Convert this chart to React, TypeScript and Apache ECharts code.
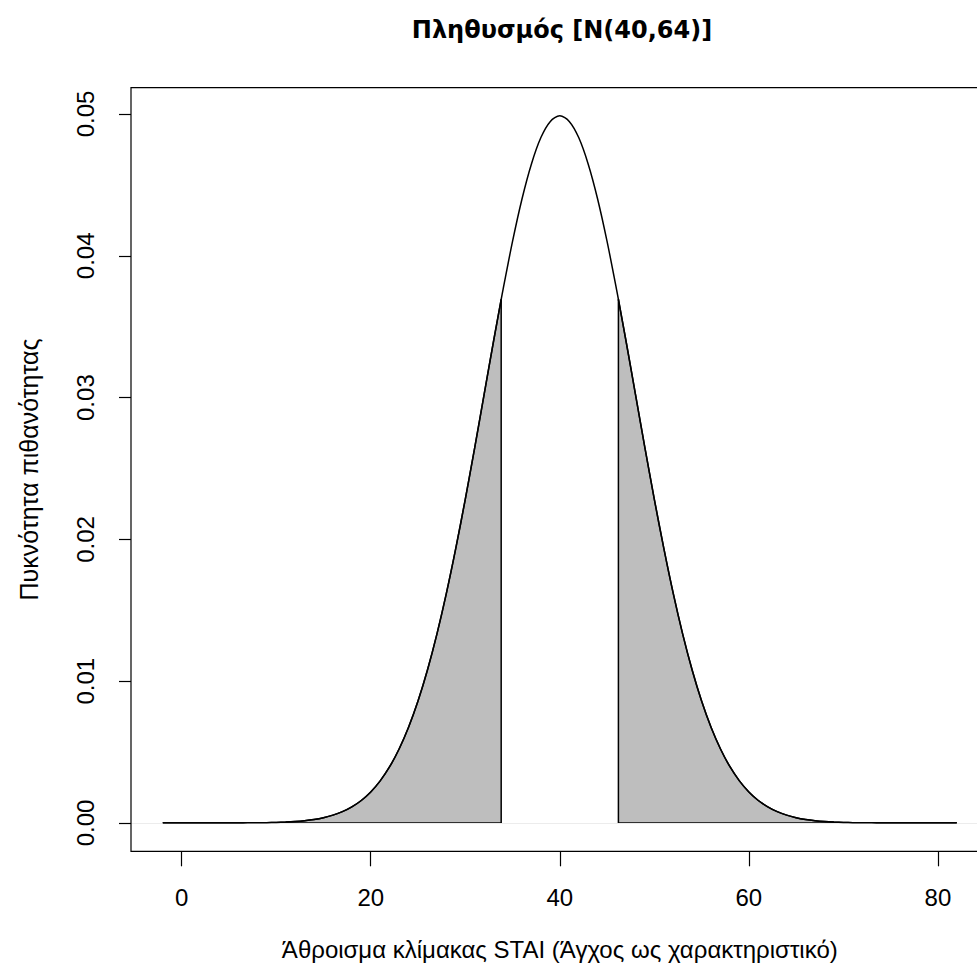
import React, { useEffect, useRef } from "react";
import * as echarts from "echarts";

// x positions where the density curve was read
const xValues = [
  -2, -1, 0, 1, 2, 3, 4, 5, 6, 7, 8, 9, 10, 11, 12, 13, 14, 15, 16, 17, 18, 19,
  20, 21, 22, 23, 24, 25, 26, 27, 28, 29, 30, 31, 32, 33, 33.8, 34, 35, 36, 37,
  38, 39, 40, 41, 42, 43, 44, 45, 46, 46.2, 47, 48, 49, 50, 51, 52, 53, 54, 55,
  56, 57, 58, 59, 60, 61, 62, 63, 64, 65, 66, 67, 68, 69, 70, 71, 72, 73, 74,
  75, 76, 77, 78, 79, 80, 81, 82,
];
// density values (peak ~0.0499 at 40)
const density = [
  0, 0.0000001, 0.0000002, 0.0000003, 0.0000006, 0.0000011, 0.000002,
  0.0000035, 0.0000059, 0.0000101, 0.0000167, 0.0000274, 0.0000441, 0.0000699,
  0.000109, 0.000168, 0.000254, 0.000378, 0.000554, 0.0008, 0.00114, 0.00159,
  0.00219, 0.00297, 0.00397, 0.00522, 0.00675, 0.0086, 0.01079, 0.01332,
  0.01619, 0.01938, 0.02283, 0.02648, 0.03025, 0.03401, 0.03693, 0.03764,
  0.04102, 0.04401, 0.04648, 0.04834, 0.04948, 0.04987, 0.04948, 0.04834,
  0.04648, 0.04401, 0.04102, 0.03764, 0.03693, 0.03401, 0.03025, 0.02648,
  0.02283, 0.01938, 0.01619, 0.01332, 0.01079, 0.0086, 0.00675, 0.00522,
  0.00397, 0.00297, 0.00219, 0.00159, 0.00114, 0.0008, 0.000554, 0.000378,
  0.000254, 0.000168, 0.000109, 0.0000699, 0.0000441, 0.0000274, 0.0000167,
  0.0000101, 0.0000059, 0.0000035, 0.000002, 0.0000011, 0.0000006, 0.0000003,
  0.0000002, 0.0000001, 0,
];
const cutLow = 33.8;
const cutHigh = 46.2;
const xTicks = [0, 20, 40, 60, 80];
const yTicks = [0, 0.01, 0.02, 0.03, 0.04, 0.05];
const xRange = [-5.36, 85.36];
const yRange = [-0.0019947, 0.0518627];

const titleText = "Πληθυσμός [N(40,64)]";
const xName = "Άθροισμα κλίμακας STAI (Άγχος ως χαρακτηριστικό)";
const yName = "Πυκνότητα πιθανότητας";

export default function App() {
  const ref = useRef<HTMLDivElement>(null);
  useEffect(() => {
    document.body.style.margin = "0";
    if (!ref.current) return;
    const chart = echarts.init(ref.current, undefined, { renderer: "svg" });
    const pts = xValues.map((x, i) => [x, density[i]]);
    const leftPts = pts.filter((p) => p[0] <= cutLow);
    const rightPts = pts.filter((p) => p[0] >= cutHigh);
    const lowY = pts.find((p) => p[0] === cutLow)![1];
    const highY = pts.find((p) => p[0] === cutHigh)![1];
    const font = "'Liberation Sans', Arial, sans-serif";
    const black = { color: "#000", width: 1.5 };
    const seg = (data: number[][]) => ({
      type: "line",
      data,
      symbol: "none",
      silent: true,
      lineStyle: black,
      z: 4,
    });
    chart.setOption({
      animation: false,
      title: {
        text: titleText,
        left: 557,
        top: 13,
        textAlign: "center",
        textStyle: {
          fontFamily: "'DejaVu Sans', sans-serif",
          fontWeight: "bold",
          fontSize: 24,
          color: "#000",
        },
      },
      grid: {
        left: 131,
        top: 87.6,
        width: 857.6,
        height: 763.7,
        show: false,
        outerBoundsMode: "none",
        containLabel: false,
      },
      xAxis: {
        type: "value",
        min: xRange[0],
        max: xRange[1],
        axisLine: { show: false, onZero: false },
        splitLine: { show: false },
        axisTick: {
          show: true,
          length: 15,
          inside: false,
          customValues: xTicks,
          lineStyle: { color: "#000", width: 1.2 },
        },
        axisLabel: {
          customValues: xTicks,
          margin: 34,
          fontFamily: font,
          fontSize: 24,
          color: "#000",
          formatter: (v: number) => String(v),
        },
        name: xName,
        nameLocation: "middle",
        nameGap: 86,
        nameTextStyle: { fontFamily: font, fontSize: 24, color: "#000" },
      },
      yAxis: {
        type: "value",
        min: yRange[0],
        max: yRange[1],
        axisLine: { show: false, onZero: false },
        splitLine: { show: false },
        axisTick: {
          show: true,
          length: 12,
          customValues: yTicks,
          lineStyle: { color: "#000", width: 1.2 },
        },
        axisLabel: {
          customValues: yTicks,
          rotate: 90,
          margin: 34,
          fontFamily: font,
          fontSize: 24,
          color: "#000",
          formatter: (v: number) => v.toFixed(2),
        },
        name: yName,
        nameLocation: "middle",
        nameRotate: 90,
        nameGap: 90,
        nameTextStyle: { fontFamily: font, fontSize: 25, color: "#000" },
      },
      series: [
        {
          type: "line",
          data: leftPts,
          smooth: 0.3,
          symbol: "none",
          silent: true,
          lineStyle: black,
          areaStyle: { color: "#bebebe", opacity: 1 },
          z: 2,
          markLine: {
            silent: true,
            symbol: "none",
            label: { show: false },
            lineStyle: { color: "#ececec", width: 1, type: "solid" },
            data: [{ yAxis: 0 }],
          },
        },
        {
          type: "line",
          data: rightPts,
          smooth: 0.3,
          symbol: "none",
          silent: true,
          lineStyle: black,
          areaStyle: { color: "#bebebe", opacity: 1 },
          z: 2,
        },
        seg([[cutLow, 0], [cutLow, lowY]]),
        seg([[cutHigh, 0], [cutHigh, highY]]),
        seg([[xValues[0], 0], [cutLow, 0]]),
        seg([[cutHigh, 0], [xValues[xValues.length - 1], 0]]),
        {
          type: "line",
          data: pts,
          smooth: 0.3,
          symbol: "none",
          silent: true,
          lineStyle: black,
          z: 5,
        },
      ],
    });
    // plot frame from the axes' own scale
    const tl = chart.convertToPixel({ gridIndex: 0 }, [xRange[0], yRange[1]]) as number[];
    const br = chart.convertToPixel({ gridIndex: 0 }, [xRange[1], yRange[0]]) as number[];
    chart.setOption({
      graphic: [
        {
          type: "rect",
          silent: true,
          z: 10,
          shape: { x: tl[0], y: tl[1], width: br[0] - tl[0], height: br[1] - tl[1] },
          style: { fill: "none", stroke: "#000", lineWidth: 1.2 },
        },
      ],
    });
    return () => chart.dispose();
  }, []);
  return <div ref={ref} style={{ width: 977, height: 978 }} />;
}
